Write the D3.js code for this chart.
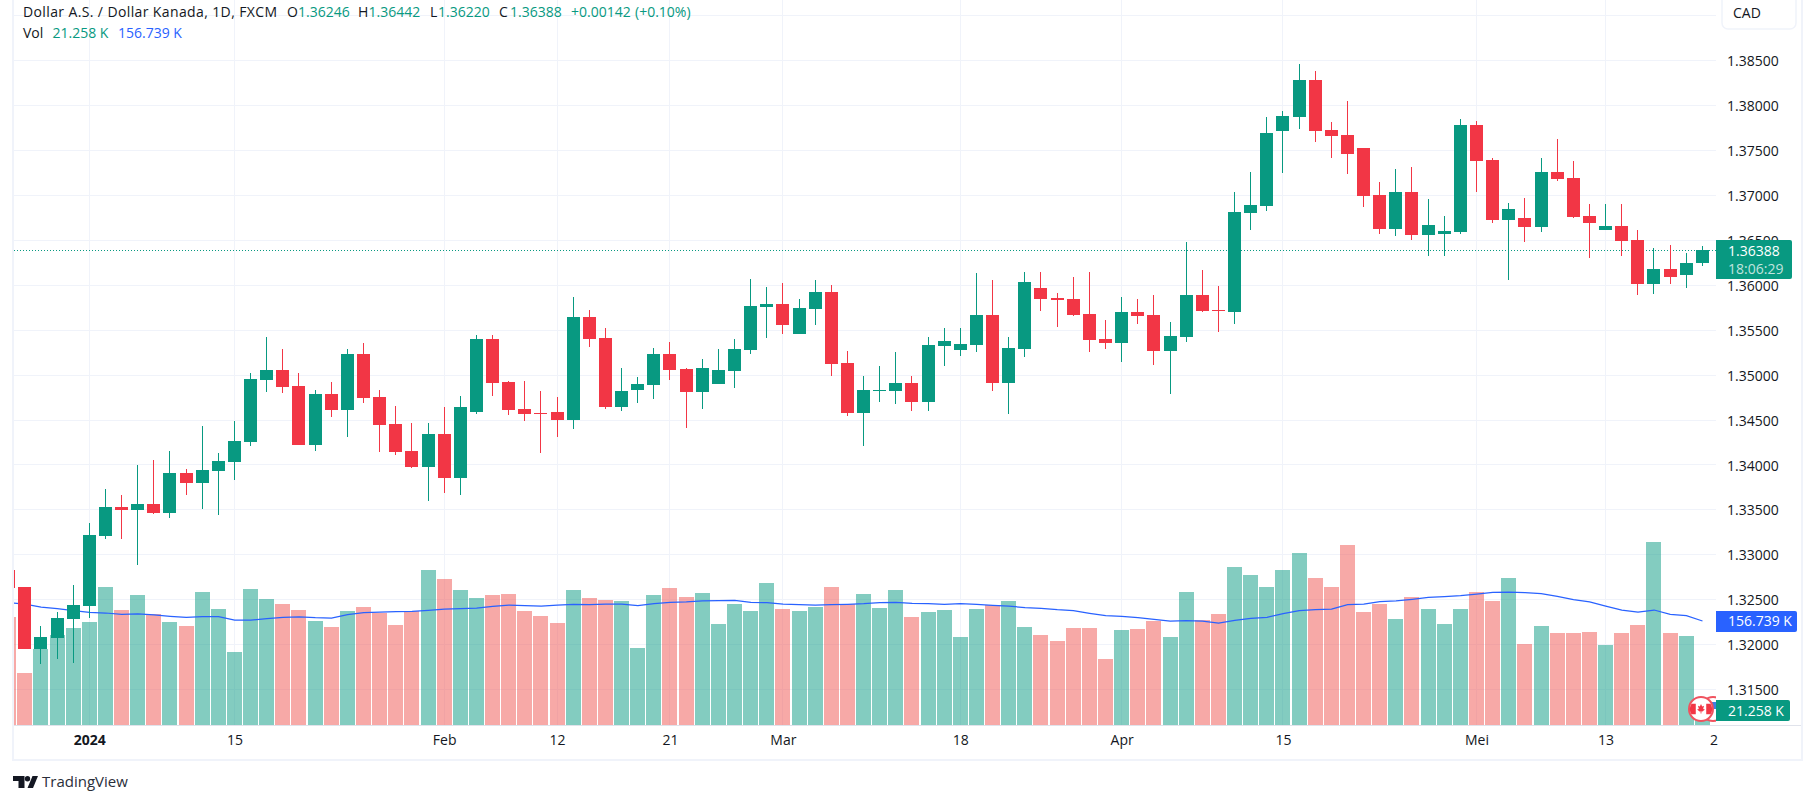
<!DOCTYPE html>
<html>
<head>
<meta charset="utf-8">
<title>USDCAD 1D</title>
<script src="https://cdnjs.cloudflare.com/ajax/libs/d3/7.8.5/d3.min.js"></script>
<style>
  html, body { margin: 0; background: #fff; overflow: hidden; }
  svg { display: block; }
  text { font-family: "Open Sans", Roboto, sans-serif; }
  .domain { display: none; }
</style>
</head>
<body>
<div id="chart"></div>
<script>
// bar numbers count from the 2024 candle, so the first rows start before it
var firstBar = -5;

var opens = [1.32831,1.32642,1.31952,1.32074,1.32286,1.32431,1.33210,1.33532,1.33499,1.33566,1.33466,1.33911,1.33800,1.33933,1.34033,1.34256,1.34946,1.35057,1.34879,1.34223,1.34790,1.34612,1.35235,1.34757,1.34456,1.34156,1.33978,1.34345,1.33855,1.34590,1.35402,1.34924,1.34623,1.34579,1.34590,1.34501,1.35647,1.35413,1.34645,1.34835,1.34890,1.35235,1.35068,1.34812,1.34901,1.35046,1.35280,1.35758,1.35792,1.35458,1.35736,1.35925,1.35135,1.34579,1.34824,1.34824,1.34913,1.34701,1.35324,1.35280,1.35336,1.35669,1.34913,1.35291,1.35970,1.35859,1.35848,1.35681,1.35402,1.35358,1.35703,1.35669,1.35269,1.35425,1.35892,1.35725,1.35703,1.36805,1.36883,1.37717,1.37873,1.38285,1.37728,1.37673,1.37528,1.37005,1.36627,1.37038,1.36560,1.36571,1.36593,1.37784,1.37395,1.36727,1.36749,1.36649,1.37261,1.37194,1.36771,1.36615,1.36660,1.36504,1.36014,1.36181,1.36115,1.36246];
var highs = [1.32831,1.32642,1.32208,1.32364,1.32664,1.33354,1.33733,1.33666,1.34000,1.34056,1.34156,1.33955,1.34434,1.34134,1.34490,1.35024,1.35425,1.35291,1.35024,1.34835,1.34924,1.35291,1.35358,1.34835,1.34657,1.34467,1.34467,1.34645,1.34768,1.35447,1.35447,1.34935,1.34935,1.34824,1.34757,1.35870,1.35725,1.35525,1.35080,1.34979,1.35302,1.35369,1.35080,1.35180,1.35291,1.35402,1.36070,1.35981,1.36026,1.35848,1.36059,1.36003,1.35269,1.34991,1.35102,1.35258,1.34991,1.35425,1.35525,1.35525,1.36137,1.36059,1.35425,1.36148,1.36148,1.35914,1.36092,1.36148,1.35614,1.35870,1.35848,1.35892,1.35592,1.36482,1.36170,1.35992,1.37038,1.37261,1.37873,1.37940,1.38463,1.38385,1.37818,1.38051,1.37528,1.37150,1.37294,1.37317,1.36961,1.36771,1.37851,1.37829,1.37417,1.36916,1.36972,1.37417,1.37628,1.37383,1.36905,1.36905,1.36905,1.36615,1.36415,1.36449,1.36359,1.36442];
var lows = [1.32631,1.31952,1.31785,1.31841,1.31796,1.32297,1.33176,1.33176,1.32887,1.33455,1.33410,1.33666,1.33510,1.33443,1.33833,1.34211,1.34812,1.34801,1.34223,1.34156,1.34534,1.34312,1.34690,1.34145,1.34111,1.33967,1.33599,1.33688,1.33666,1.34568,1.34768,1.34556,1.34490,1.34134,1.34312,1.34401,1.35313,1.34623,1.34601,1.34690,1.34735,1.34946,1.34412,1.34623,1.34901,1.34857,1.35235,1.35413,1.35458,1.35458,1.35558,1.34991,1.34545,1.34211,1.34701,1.34679,1.34601,1.34601,1.35102,1.35213,1.35258,1.34824,1.34568,1.35202,1.35714,1.35536,1.35658,1.35258,1.35291,1.35146,1.35569,1.35113,1.34790,1.35369,1.35703,1.35480,1.35569,1.36615,1.36827,1.37250,1.37740,1.37595,1.37417,1.37239,1.36871,1.36571,1.36549,1.36504,1.36326,1.36326,1.36571,1.37038,1.36693,1.36059,1.36482,1.36593,1.37161,1.36749,1.36304,1.36615,1.36326,1.35892,1.35903,1.36014,1.35970,1.36220];
var closes = [1.32631,1.31952,1.32086,1.32297,1.32442,1.33221,1.33532,1.33499,1.33566,1.33466,1.33911,1.33800,1.33944,1.34044,1.34267,1.34957,1.35057,1.34868,1.34223,1.34790,1.34612,1.35235,1.34746,1.34445,1.34145,1.33978,1.34345,1.33855,1.34645,1.35402,1.34913,1.34612,1.34568,1.34568,1.34501,1.35647,1.35402,1.34645,1.34824,1.34901,1.35235,1.35057,1.34812,1.35080,1.35057,1.35291,1.35770,1.35792,1.35558,1.35747,1.35925,1.35124,1.34579,1.34835,1.34835,1.34913,1.34701,1.35336,1.35380,1.35347,1.35669,1.34913,1.35302,1.36037,1.35848,1.35836,1.35669,1.35391,1.35358,1.35703,1.35658,1.35269,1.35436,1.35892,1.35714,1.35714,1.36816,1.36894,1.37695,1.37884,1.38285,1.37717,1.37662,1.37461,1.36994,1.36627,1.37038,1.36560,1.36671,1.36604,1.37784,1.37383,1.36727,1.36849,1.36649,1.37261,1.37183,1.36760,1.36693,1.36660,1.36493,1.36014,1.36181,1.36092,1.36248,1.36388];

// thousands
var volumes = [162.8,78.4,114.5,135.6,146.2,155.2,208.0,173.3,195.9,167.3,155.2,149.2,200.4,174.8,110.0,205.0,189.9,182.3,173.3,156.7,147.7,171.8,177.8,168.8,150.7,171.8,233.6,220.0,203.4,191.4,195.9,197.4,171.8,164.3,153.7,203.4,191.4,188.4,186.9,116.0,195.9,206.5,192.9,198.9,152.2,182.3,171.8,214.0,174.8,171.8,177.8,208.0,182.3,197.4,176.3,203.4,162.8,170.3,173.3,132.6,174.8,180.8,186.9,147.7,135.6,126.6,146.2,146.2,99.5,143.2,144.7,156.7,132.6,200.4,158.2,167.3,238.1,226.1,208.0,233.6,259.2,221.5,208.0,271.3,170.3,182.3,159.7,192.9,174.8,152.2,174.8,200.4,186.9,221.5,122.1,149.2,138.6,138.6,140.2,120.6,138.6,150.7,275.8,138.6,134.1,21.258];
var volumeMa = [184.3,182.3,177.8,175.3,172.3,169.8,168.8,166.8,167.3,165.8,163.8,162.3,163.2,163.2,158.2,158.2,160.2,162.3,162.8,161.7,161.2,166.2,169.2,170.3,170.7,171.3,172.9,174.8,175.3,176.3,178.9,180.8,179.8,179.3,180.8,181.9,181.3,182.3,182.3,179.8,182.8,184.9,185.4,186.9,187.3,187.9,184.9,184.3,182.3,181.3,180.8,181.3,181.9,182.8,184.3,184.9,183.4,182.8,181.9,182.8,181.9,180.4,179.3,176.8,175.9,173.8,172.3,168.3,164.7,163.8,161.7,159.3,156.7,157.2,156.7,153.7,157.8,160.8,162.3,167.7,172.3,173.8,174.8,181.3,182.3,185.8,186.9,189.4,192.4,193.4,194.9,197.4,200.0,200.4,199.4,197.9,194.0,188.8,185.4,179.3,173.3,170.3,173.3,166.8,164.7,156.739];

var priceTicks = [1.385,1.38,1.375,1.37,1.365,1.36,1.355,1.35,1.345,1.34,1.335,1.33,1.325,1.32,1.315];
var gridPrices = [1.39].concat(priceTicks);
var timeTickBars = [0,9,22,29,36,43,54,64,74,86,94,100.7];
var timeTickLabels = ['2024','15','Feb','12','21','Mar','18','Apr','15','Mei','13','2'];
var gridBars = timeTickBars.slice(0, 11);

var lastPrice = 1.36388;
var countdown = '18:06:29';
var legendTitle = 'Dollar A.S. / Dollar Kanada, 1D, FXCM';

var green = '#089981', red = '#f23645', blue = '#2962ff';
var gridColor = '#f0f3fa', inkColor = '#131722';

var plot = { left: 14, right: 1716, bottom: 725 };

var svg = d3.select('#chart').append('svg')
  .attr('width', 1815)
  .attr('height', 804);

var x = d3.scaleLinear().domain([0, 100]).range([89.3, 1702.3]);
var y = d3.scaleLinear().domain([1.38, 1.33]).range([105.6, 554.8]);
var yVol = d3.scaleLinear().domain([0, 300]).range([725, 725 - 300 * 0.6635]);

var bars = d3.range(opens.length).map(function(i) {
  return {
    bar: firstBar + i,
    o: opens[i], h: highs[i], l: lows[i], c: closes[i],
    v: volumes[i], ma: volumeMa[i],
    up: closes[i] >= opens[i]
  };
});

function px(d) { return Math.round(x(d.bar) - 0.5); }

svg.append('clipPath').attr('id', 'plot-clip').append('rect')
  .attr('x', plot.left).attr('y', 0)
  .attr('width', plot.right - plot.left).attr('height', plot.bottom);

// grid
var grid = svg.append('g').attr('stroke', gridColor).attr('stroke-width', 1);
grid.selectAll('.h').data(gridPrices).enter().append('line')
  .attr('x1', plot.left).attr('x2', plot.right)
  .attr('y1', function(d) { return Math.floor(y(d)) + 0.5; })
  .attr('y2', function(d) { return Math.floor(y(d)) + 0.5; });
grid.selectAll('.v').data(gridBars).enter().append('line')
  .attr('y1', 0).attr('y2', plot.bottom)
  .attr('x1', function(d) { return Math.floor(x(d)) + 0.5; })
  .attr('x2', function(d) { return Math.floor(x(d)) + 0.5; });

var pane = svg.append('g').attr('clip-path', 'url(#plot-clip)');

// volume bars
pane.append('g').attr('shape-rendering', 'crispEdges').selectAll('rect').data(bars).enter().append('rect')
  .attr('x', function(d) { return px(d) - 7; })
  .attr('width', 15)
  .attr('y', function(d) { return Math.round(yVol(d.v)); })
  .attr('height', function(d) { return plot.bottom - Math.round(yVol(d.v)); })
  .attr('fill', function(d) { return d.up ? green : '#ef5350'; })
  .attr('fill-opacity', 0.5);

// volume average
pane.append('path')
  .datum(bars)
  .attr('fill', 'none')
  .attr('stroke', blue)
  .attr('stroke-width', 1.25)
  .attr('d', d3.line()
    .x(function(d) { return x(d.bar) + 0.2; })
    .y(function(d) { return yVol(d.ma); }));

// last price line
pane.append('line')
  .attr('x1', plot.left).attr('x2', plot.right)
  .attr('y1', Math.floor(y(lastPrice)) + 0.5).attr('y2', Math.floor(y(lastPrice)) + 0.5)
  .attr('stroke', green)
  .attr('stroke-dasharray', '1,2');

// candles
var candles = pane.append('g').attr('shape-rendering', 'crispEdges')
  .selectAll('g').data(bars).enter().append('g')
  .attr('fill', function(d) { return d.up ? green : red; });
candles.append('rect')
  .attr('x', px)
  .attr('width', 1)
  .attr('y', function(d) { return Math.round(y(d.h)); })
  .attr('height', function(d) { return Math.max(1, Math.round(y(d.l)) - Math.round(y(d.h))); });
candles.append('rect')
  .attr('x', function(d) { return px(d) - 6; })
  .attr('width', 13)
  .attr('y', function(d) { return Math.round(y(Math.max(d.o, d.c))); })
  .attr('height', function(d) { return Math.max(1, Math.round(y(Math.min(d.o, d.c))) - Math.round(y(Math.max(d.o, d.c)))); });

// event badges on the last bar
var badges = svg.append('g');
var usBadge = badges.append('g').attr('transform', 'translate(1713,709)');
usBadge.append('circle').attr('r', 12).attr('fill', '#fff').attr('stroke', '#f0535f').attr('stroke-width', 2);
usBadge.append('rect').attr('x', -3).attr('y', -7).attr('width', 10).attr('height', 7).attr('fill', '#3d7fe0');
var caBadge = badges.append('g').attr('transform', 'translate(1701,709)');
caBadge.append('circle').attr('r', 12).attr('fill', '#fff').attr('stroke', '#f0535f').attr('stroke-width', 2);
caBadge.append('path').attr('fill', red).attr('d', 'M-10-5.5H-5.5V5.5H-10A10 10 0 0 1-10-5.5ZM10-5.5H5.5V5.5H10A10 10 0 0 0 10-5.5Z').attr('transform', 'scale(.95)');
caBadge.append('path').attr('fill', red).attr('d', 'M0-5L1.2-2.6 3-3.2 2.2 0 4 .4 1 2.7 .4 2 .4 4.5H-.4L-.4 2-1 2.7-4 .4-2.2 0-3-3.2-1.2-2.6Z');

// white strip so badges stop at the price scale
svg.append('rect').attr('x', plot.right).attr('y', 0).attr('width', 86).attr('height', plot.bottom).attr('fill', '#fff');

// frame
var frame = svg.append('g').attr('fill', gridColor);
frame.append('rect').attr('x', 12).attr('y', 0).attr('width', 2).attr('height', 761);
frame.append('rect').attr('x', 12).attr('y', 759).attr('width', 1791).attr('height', 2);
frame.append('rect').attr('x', 1801).attr('y', 0).attr('width', 2).attr('height', 761);
svg.append('rect').attr('x', 14).attr('y', 725).attr('width', 1787).attr('height', 1).attr('fill', '#e0e3eb');

// price scale
var priceAxis = svg.append('g')
  .attr('transform', 'translate(' + plot.right + ',0)')
  .call(d3.axisRight(y).tickValues(priceTicks).tickSize(0).tickPadding(11).tickFormat(d3.format('.5f')));
priceAxis.selectAll('text').attr('font-size', 14).attr('font-family', '"Open Sans"').attr('fill', inkColor).attr('dy', '0.36em');

// time scale
var timeAxis = svg.append('g')
  .attr('transform', 'translate(0,' + plot.bottom + ')')
  .call(d3.axisBottom(x).tickValues(timeTickBars).tickSize(0).tickPadding(10)
    .tickFormat(function(d, i) { return timeTickLabels[i]; }));
timeAxis.selectAll('text')
  .attr('font-size', 14)
  .attr('font-family', '"Open Sans"')
  .attr('fill', inkColor)
  .attr('font-weight', function(d, i) { return timeTickLabels[i] === '2024' ? 700 : 400; });

// currency button
svg.append('rect')
  .attr('x', 1722).attr('y', -8).attr('width', 74).attr('height', 37).attr('rx', 6)
  .attr('fill', '#fff').attr('stroke', gridColor).attr('stroke-width', 1.5);
svg.append('text').attr('x', 1733).attr('y', 18).attr('font-size', 14).attr('fill', inkColor).text('CAD');

// labels on the price scale
function scaleLabel(top, height, width, fill) {
  svg.append('path')
    .attr('fill', fill)
    .attr('d', 'M' + plot.right + ' ' + top + 'h' + (width - 2) + 'a2 2 0 0 1 2 2v' + (height - 4) + 'a2 2 0 0 1-2 2h-' + (width - 2) + 'z');
}
function scaleText(cy, str, fill) {
  svg.append('text').attr('x', 1728).attr('y', cy).attr('dy', '0.36em')
    .attr('font-size', 14).attr('fill', fill).text(str);
}
var lastVol = volumes[volumes.length - 1], lastMa = volumeMa[volumeMa.length - 1];
var kFormat = d3.format('.3f');

scaleLabel(240, 39, 76, green);
scaleText(y(lastPrice) + 1, d3.format('.5f')(lastPrice), '#fff');
scaleText(269, countdown, 'rgba(255,255,255,0.75)');
scaleLabel(Math.round(yVol(lastMa)) - 10, 21, 81, blue);
scaleText(yVol(lastMa), kFormat(lastMa) + ' K', '#fff');
scaleLabel(Math.round(yVol(lastVol)) - 11, 21, 74, green);
scaleText(yVol(lastVol), kFormat(lastVol) + ' K', '#fff');

// legend
var legend = svg.append('g').attr('font-size', 14);
function legendText(xPos, yPos, str, fill) {
  return legend.append('text').attr('x', xPos).attr('y', yPos).attr('dy', '0.36em').attr('fill', fill).text(str);
}
var last = bars[bars.length - 1];
var fmt = d3.format('.5f');
legendText(23, 12, legendTitle, inkColor).attr('letter-spacing', 0.38);
legendText(287, 12, 'O', inkColor);
legendText(298, 12, fmt(last.o), green);
legendText(358, 12, 'H', inkColor);
legendText(368.5, 12, fmt(last.h), green);
legendText(430, 12, 'L', inkColor);
legendText(438, 12, fmt(last.l), green);
legendText(499, 12, 'C', inkColor);
legendText(510, 12, fmt(last.c), green);
legendText(571, 12, '+' + fmt(last.c - last.o), green);
legendText(635, 12, '(+' + d3.format('.2f')((last.c - last.o) / last.o * 100) + '%)', green);
legendText(23, 33, 'Vol', inkColor);
legendText(52.5, 33, kFormat(lastVol) + ' K', green);
legendText(118, 33, kFormat(lastMa) + ' K', blue);

// logo
var logo = svg.append('g').attr('fill', inkColor);
logo.append('path').attr('d', 'M13 776H24.5V788H18.5V781H13Z');
logo.append('circle').attr('cx', 27.5).attr('cy', 778.7).attr('r', 2.7);
logo.append('path').attr('d', 'M27.5 788L32.5 776H38L33 788Z');
svg.append('text').attr('x', 42).attr('y', 782).attr('dy', '0.36em')
  .attr('font-size', 15).attr('fill', '#2a2e39').text('TradingView');
</script>
</body>
</html>
